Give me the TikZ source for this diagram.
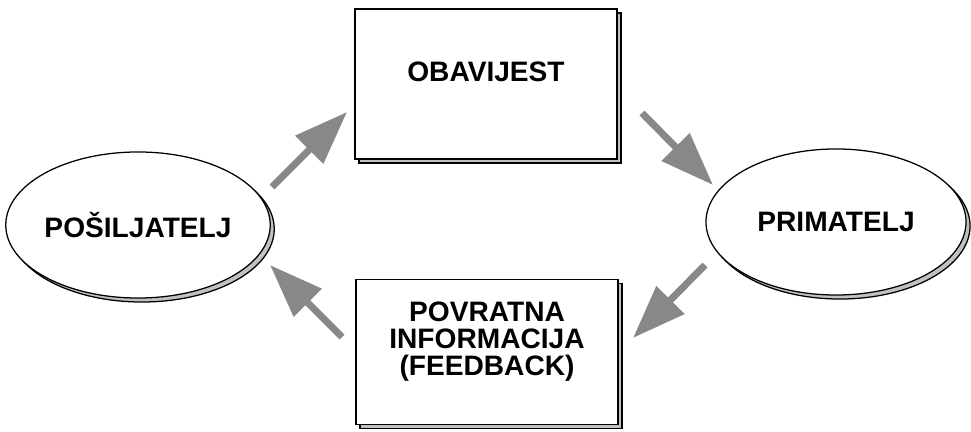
\documentclass[tikz,border=0pt]{standalone}
\usepackage{fontspec}
\setmainfont{Liberation Sans}
\usepackage{xcolor}
\usepackage{tikz}
\usetikzlibrary{shapes.geometric,shadows,arrows.meta}

\definecolor{arrowgray}{RGB}{135,136,138}
\definecolor{shadowgray}{RGB}{192,193,195}

\begin{document}
\begin{tikzpicture}[x=0.025cm, y=-0.025cm,
            txt/.style={font=\fontsize{20}{19.5}\selectfont\bfseries, align=center},
            oval/.style={shape=ellipse, draw, line width=0.9pt, fill=white, inner sep=0pt,
                minimum width=6.5cm, minimum height=3.65cm, txt,
                general shadow={draw=black, fill=shadowgray, line width=0.9pt,
                    shadow xshift=0.1cm, shadow yshift=-0.1cm}},
            card/.style={shape=rectangle, draw, line width=1pt, fill=white, inner sep=0pt,
                minimum width=6.55cm, txt,
                general shadow={draw=black, fill=shadowgray, line width=1pt,
                    shadow xshift=0.1cm, shadow yshift=-0.1cm}},
            flow/.style={draw=arrowgray, line width=5pt,
                -{Triangle[length=38pt, width=27pt]}}]
        \useasboundingbox (0,0) rectangle (971,432);

        \node[oval] (sender) at (138,225) {PO\v{S}ILJATELJ};
        \node[oval] (receiver) at (836,222) {PRIMATELJ};
        \node[card, minimum height=3.75cm, text depth=18pt] (message) at (486,84) {OBAVIJEST};
        \node[card, minimum height=3.625cm, text depth=19pt] (feedback) at (487,352)
            {POVRATNA\\INFORMACIJA\\(FEEDBACK)};

        % arrow ends
        \coordinate (s1) at (272,187); \coordinate (t1) at (347,112);
        \coordinate (s2) at (642,113); \coordinate (t2) at (713,185);
        \coordinate (s3) at (705,265); \coordinate (t3) at (633,338);
        \coordinate (s4) at (342,337); \coordinate (t4) at (270,265);

        \draw[flow] (s1) -- (t1);
        \draw[flow] (s2) -- (t2);
        \draw[flow] (s3) -- (t3);
        \draw[flow] (s4) -- (t4);
    \end{tikzpicture}
\end{document}
